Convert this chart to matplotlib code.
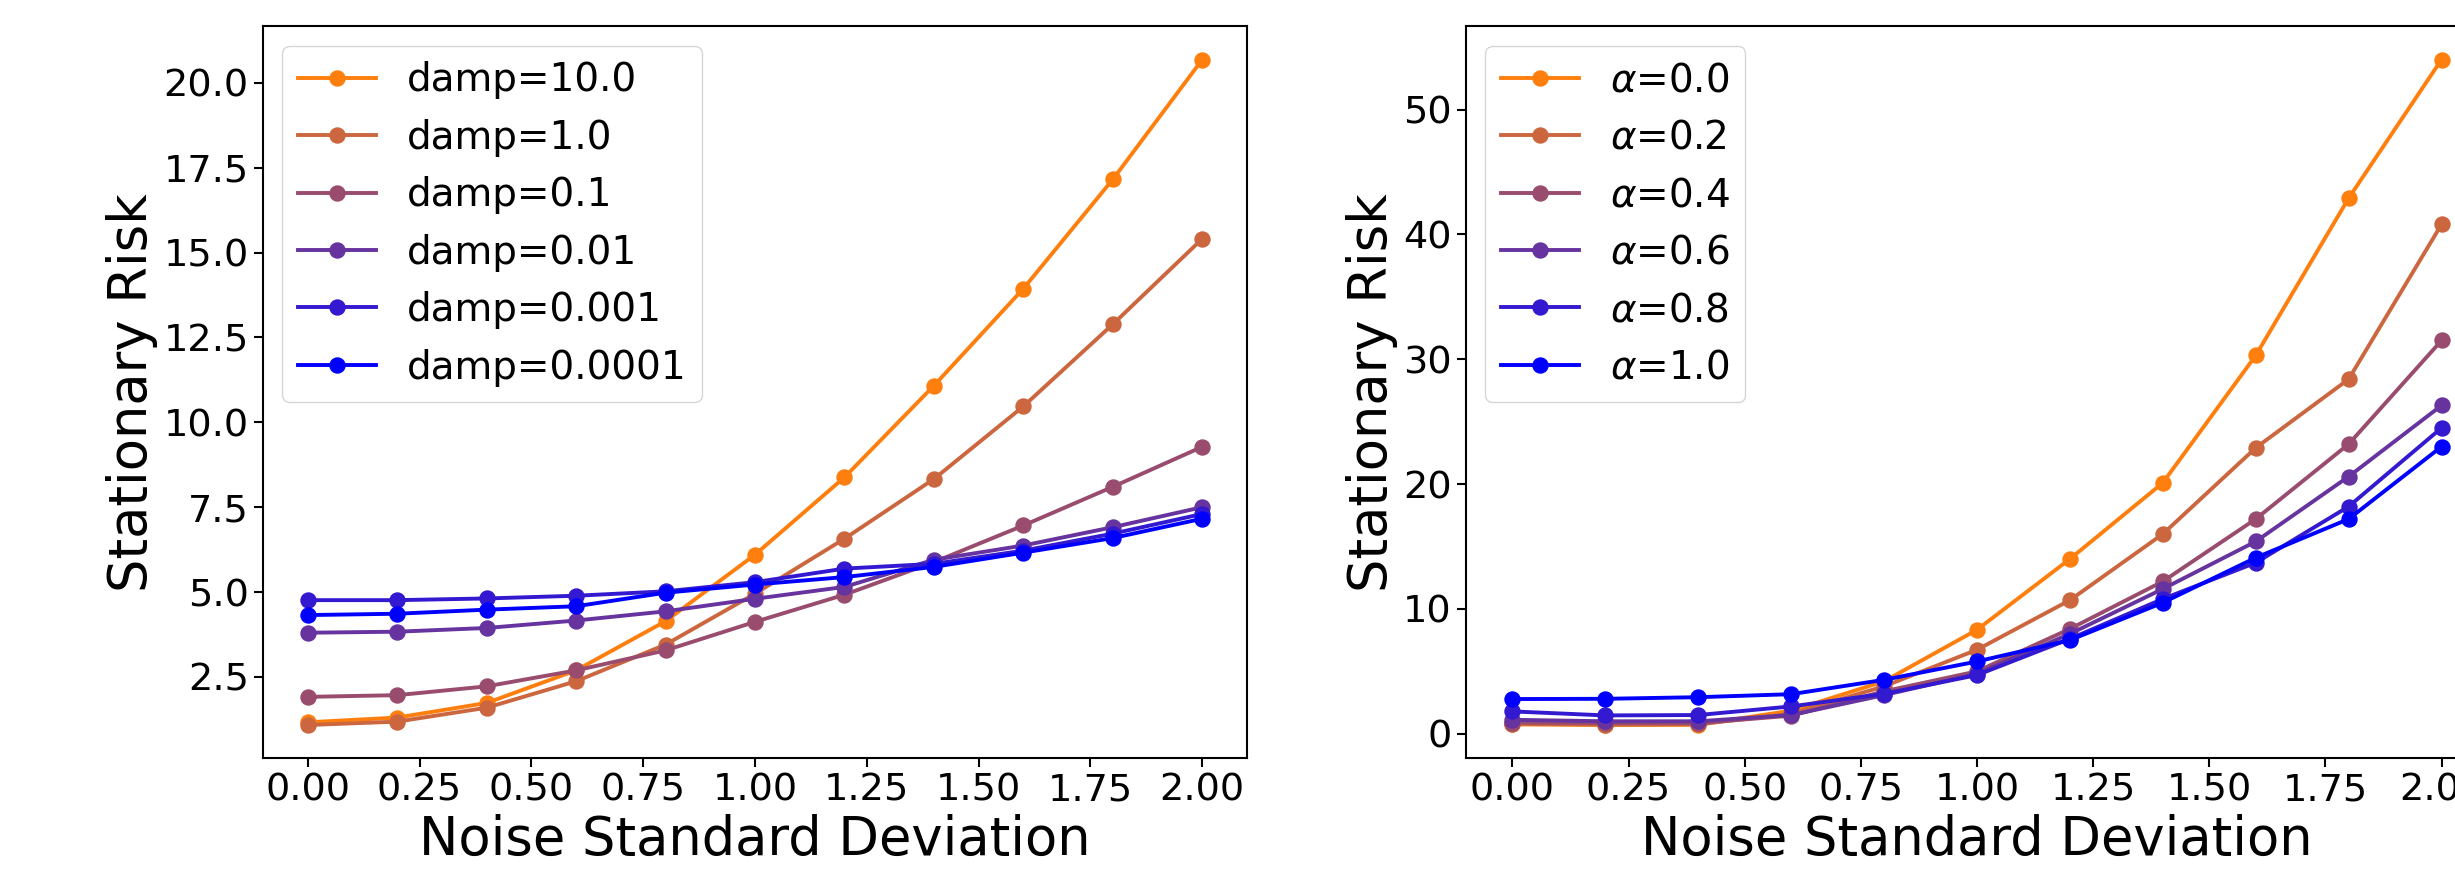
import matplotlib
matplotlib.use("Agg")
import matplotlib.pyplot as plt
from matplotlib.ticker import MultipleLocator

# Noise standard deviation grid
noise_std = [0.0, 0.2, 0.4, 0.6, 0.8, 1.0, 1.2, 1.4, 1.6, 1.8, 2.0]

# Left panel: stationary risk for several damping values
damp_labels = ["damp=10.0", "damp=1.0", "damp=0.1", "damp=0.01", "damp=0.001", "damp=0.0001"]
risk_damp_10 = [1.16, 1.30, 1.73, 2.69, 4.14, 6.10, 8.38, 11.08, 13.94, 17.16, 20.69]
risk_damp_1 = [1.08, 1.18, 1.59, 2.37, 3.45, 4.95, 6.57, 8.33, 10.47, 12.89, 15.41]
risk_damp_01 = [1.91, 1.96, 2.22, 2.69, 3.28, 4.12, 4.92, 5.88, 6.96, 8.10, 9.28]
risk_damp_001 = [3.80, 3.83, 3.94, 4.16, 4.43, 4.80, 5.15, 5.95, 6.37, 6.91, 7.50]
risk_damp_0001 = [4.76, 4.76, 4.81, 4.89, 5.02, 5.29, 5.69, 5.83, 6.22, 6.72, 7.30]
risk_damp_00001 = [4.32, 4.36, 4.48, 4.58, 4.98, 5.22, 5.44, 5.74, 6.16, 6.59, 7.16]

# Right panel: stationary risk for several alpha values
alpha_labels = [r"$\alpha$=0.0", r"$\alpha$=0.2", r"$\alpha$=0.4",
                r"$\alpha$=0.6", r"$\alpha$=0.8", r"$\alpha$=1.0"]
risk_alpha_00 = [0.75, 0.70, 0.72, 1.85, 4.20, 8.33, 14.0, 20.1, 30.3, 42.9, 54.0]
risk_alpha_02 = [0.80, 0.74, 0.76, 1.60, 3.80, 6.73, 10.7, 16.0, 22.9, 28.4, 40.8]
risk_alpha_04 = [0.90, 0.85, 0.85, 1.45, 3.40, 5.00, 8.4, 12.2, 17.2, 23.2, 31.5]
risk_alpha_06 = [1.12, 1.00, 1.00, 1.50, 3.10, 4.80, 8.0, 11.6, 15.4, 20.6, 26.3]
risk_alpha_08 = [1.79, 1.47, 1.50, 2.19, 3.20, 4.70, 7.6, 10.8, 13.7, 18.2, 24.5]
risk_alpha_10 = [2.78, 2.80, 2.93, 3.17, 4.32, 5.79, 7.5, 10.5, 14.1, 17.2, 23.0]

# Orange-to-blue colour ramp shared by both panels
colors = ["#ff7f0e", "#cc663e", "#994c6e", "#66339f", "#3319cf", "#0000ff"]

plt.rcParams["font.family"] = "DejaVu Sans"
plt.rcParams["axes.linewidth"] = 1.5

fig = plt.figure(figsize=(24.55, 8.8), dpi=100)
ax_left = fig.add_axes([263 / 2455, 121.7 / 880, 984 / 2455, 732 / 880])
ax_right = fig.add_axes([1466 / 2455, 121.7 / 880, 1022 / 2455, 732 / 880])

panels = [
    (ax_left, damp_labels, [risk_damp_10, risk_damp_1, risk_damp_01,
                            risk_damp_001, risk_damp_0001, risk_damp_00001]),
    (ax_right, alpha_labels, [risk_alpha_00, risk_alpha_02, risk_alpha_04,
                              risk_alpha_06, risk_alpha_08, risk_alpha_10]),
]

for ax, labels, series in panels:
    for values, label, color in zip(series, labels, colors):
        ax.plot(noise_std, values, marker="o", color=color, label=label,
                linewidth=2.8, markersize=10.8)
    ax.xaxis.set_major_locator(MultipleLocator(0.25))
    ax.xaxis.set_major_formatter(matplotlib.ticker.FormatStrFormatter("%.2f"))
    ax.set_xlabel("Noise Standard Deviation", fontsize=38)
    ax.set_ylabel("Stationary Risk", fontsize=38)
    ax.tick_params(axis="both", labelsize=27.5, length=6.7, width=1.5)
    ax.legend(loc="upper left", fontsize=28)

fig.savefig("out.png", dpi=100)
